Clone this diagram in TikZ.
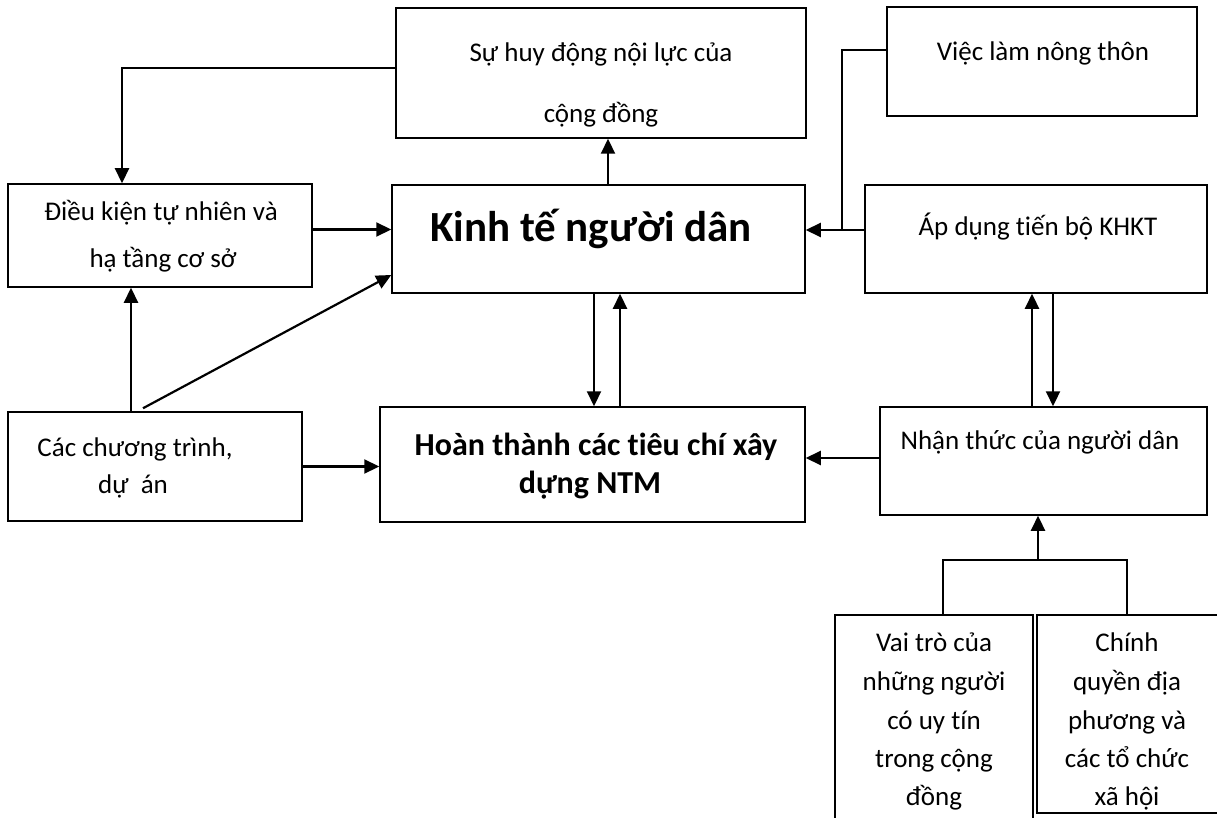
\documentclass[tikz,border=0pt]{standalone}
\usepackage{fontspec}
\setmainfont{Carlito}[Ligatures=NoCommon]
\usetikzlibrary{arrows.meta,calc}
\tikzset{
  box/.style={draw, line width=1.5pt, rectangle, inner sep=0pt},
  txt/.style={inner sep=0pt, anchor=base, font=\fontsize{27}{27}\selectfont},
  txtb/.style={inner sep=0pt, anchor=base, font=\fontsize{32}{32}\selectfont\bfseries},
  txtbig/.style={inner sep=0pt, anchor=base, font=\fontsize{43}{43}\selectfont\bfseries},
  arr/.style={line width=2.2pt, -{Triangle[length=15pt,width=14pt]}},
  ln/.style={line width=2pt}
}
\begin{document}
\begin{tikzpicture}[x=1pt,y=-1pt]
\useasboundingbox[fill=white] (0,0) rectangle (1217,818);
% boxes
\node[box, minimum width=410pt, minimum height=130pt] (huy) at (601,73) {};
\node[box, minimum width=310pt, minimum height=109pt] (viec) at (1042,61.5) {};
\node[box, minimum width=304pt, minimum height=103pt] (dk) at (160,235.5) {};
\node[box, minimum width=413pt, minimum height=108pt] (kt) at (598.5,239) {};
\node[box, minimum width=342pt, minimum height=108pt] (ad) at (1036,239) {};
\node[box, minimum width=294pt, minimum height=109pt] (ct) at (155,466.5) {};
\node[box, minimum width=425pt, minimum height=115pt] (ht) at (592.5,464.5) {};
\node[box, minimum width=327pt, minimum height=108pt] (nt) at (1043.5,461) {};
\node[box, minimum width=198pt, minimum height=215pt] (vt) at (934,722.5) {};
\node[box, minimum width=193pt, minimum height=198pt] (cq) at (1133.5,714) {};
% texts
\node[txt] (huy1) at (601,62) {Sự huy động nội lực của};
\node[txt] (huy2) at (601,123) {cộng đồng};
\node[txt] (viec1) at (1043,61) {Việc làm nông thôn};
\node[txt] (dk1) at (161,221) {Điều kiện tự nhiên và};
\node[txt] (dk2) at (163,268) {hạ tầng cơ sở};
\node[txtbig] (kt1) at (591,242) {Kinh tế người dân};
\node[txt] (ad1) at (1038,236) {Áp dụng tiến bộ KHKT};
\node[txt] (ct1) at (135,456) {Các chương trình,};
\node[txt] (ct2) at (133,493) {dự\ \ án};
\node[txtb] (ht1) at (596,455) {Hoàn thành các tiêu chí xây};
\node[txtb] (ht2) at (590,493) {dựng NTM};
\node[txt] (nt1) at (1040,449) {Nhận thức của người dân};
\node[txt] (vt1) at (934,651) {Vai trò của};
\node[txt] (vt2) at (934,690) {những người};
\node[txt] (vt3) at (934,729) {có uy tín};
\node[txt] (vt4) at (934,767) {trong cộng};
\node[txt] (vt5) at (934,805) {đồng};
\node[txt] (cq1) at (1127,651) {Chính};
\node[txt] (cq2) at (1127,690) {quyền địa};
\node[txt] (cq3) at (1127,729) {phương và};
\node[txt] (cq4) at (1127,767) {các tổ chức};
\node[txt] (cq5) at (1127,805) {xã hội};
% connectors
\draw[arr] ([yshift=5pt]huy.west) -| ([xshift=-38pt]dk.north);
\draw[arr] ([xshift=9.5pt]kt.north) -- ([xshift=9.5pt]kt.north |- huy.south);
\draw[arr] ([yshift=6pt]dk.east) -- ([yshift=6pt]dk.east -| kt.west);
\draw[arr] ([xshift=-24pt]ct.north) -- ([xshift=-24pt]ct.north |- dk.south);
\draw[arr] ([xshift=-12pt,yshift=3pt]ct.north) -- ([yshift=-36pt]kt.west);
\draw[arr] (ct.east) -- (ct.east -| ht.west);
\draw[arr] ([xshift=-4.5pt]kt.south) -- ([xshift=-4.5pt]kt.south |- ht.north);
\draw[arr] ([xshift=21.5pt]kt.south |- ht.north) -- ([xshift=21.5pt]kt.south);
\draw[arr] ([yshift=3pt]nt.west) -- ([yshift=3pt]nt.west -| ht.east);
\draw[arr] ([yshift=9pt]ad.west) -- ([yshift=9pt]ad.west -| kt.east);
\coordinate (vj) at ($(ad.west)+(-22,-9)$);
\draw[ln] ([yshift=11.5pt]viec.west) -| (vj);
\draw[arr] ([xshift=-4pt]ad.south |- nt.north) -- ([xshift=-4pt]ad.south);
\draw[arr] ([xshift=17pt]ad.south) -- ([xshift=17pt]ad.south |- nt.north);
\coordinate (bj) at ($(nt.south)+(-5.5,44)$);
\draw[ln] ([xshift=9pt]vt.north) |- (bj) -| ([xshift=-6.5pt]cq.north);
\draw[arr] (bj) -- (bj |- nt.south);
\end{tikzpicture}
\end{document}
